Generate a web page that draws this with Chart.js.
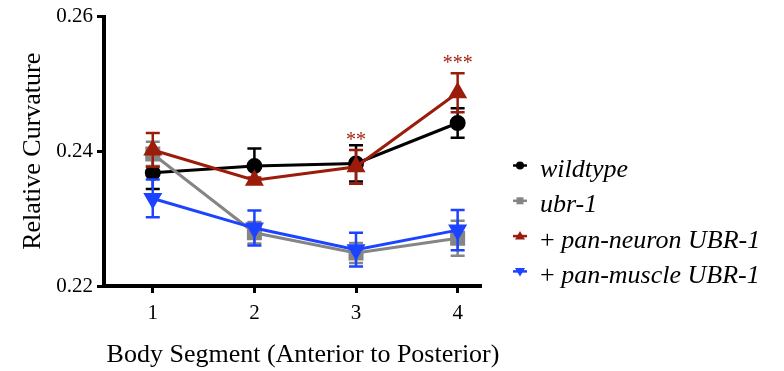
<!DOCTYPE html>
<html>
<head>
<meta charset="utf-8">
<script src="https://cdn.jsdelivr.net/npm/chart.js@4.4.1/dist/chart.umd.min.js"></script>
<style>
  html, body { margin: 0; padding: 0; background: #fff; }
</style>
</head>
<body>
<canvas id="curvatureChart" width="784" height="371"></canvas>
<script>
// values
const segments = [1, 2, 3, 4];
const yTicks = [0.22, 0.24, 0.26];

const wildtype = [0.2368, 0.2378, 0.2382, 0.2442];
const wildtypeErr = [0.0024, 0.0026, 0.0027, 0.0022];
const ubr1 = [0.2396, 0.2279, 0.2249, 0.2271];
const ubr1Err = [0.0018, 0.0016, 0.0015, 0.0026];
const panNeuron = [0.2402, 0.2357, 0.2377, 0.2487];
const panNeuronErr = [0.0025, 0.0004, 0.0025, 0.0029];
const panMuscle = [0.2330, 0.2286, 0.2254, 0.2283];
const panMuscleErr = [0.0028, 0.0026, 0.0025, 0.0030];
const neuronStars = ['', '', '**', '***'];

const legendLabels = [
  { plain: '', italic: 'wildtype' },
  { plain: '', italic: 'ubr-1' },
  { plain: '+ ', italic: 'pan-neuron UBR-1' },
  { plain: '+ ', italic: 'pan-muscle UBR-1' },
];
const xTitle = 'Body Segment (Anterior to Posterior)';

const RED = '#9c1c0b';
const BLUE = '#1c43ff';
const GRAY = '#858585';
const SERIF = '"Liberation Serif", "Times New Roman", serif';

const toPoints = vals => segments.map((s, i) => ({ x: s, y: vals[i] }));

const errorBars = {
  id: 'errorBars',
  beforeDatasetDraw(chart, args) {
    const ds = chart.data.datasets[args.index];
    const { ctx, scales: { x, y } } = chart;
    ctx.save();
    ctx.strokeStyle = ds.borderColor;
    ctx.lineWidth = 2.5;
    ds.errors.forEach((e, i) => {
      const px = x.getPixelForValue(ds.data[i].x);
      const top = y.getPixelForValue(ds.data[i].y + e);
      const bot = y.getPixelForValue(ds.data[i].y - e);
      ctx.beginPath();
      ctx.moveTo(px, top); ctx.lineTo(px, bot);
      ctx.moveTo(px - 7, top); ctx.lineTo(px + 7, top);
      ctx.moveTo(px - 7, bot); ctx.lineTo(px + 7, bot);
      ctx.stroke();
    });
    ctx.restore();
  }
};

const stars = {
  id: 'stars',
  afterDatasetsDraw(chart) {
    const { ctx, scales: { x, y } } = chart;
    ctx.save();
    ctx.fillStyle = RED;
    ctx.font = '20px ' + SERIF;
    ctx.textAlign = 'center';
    ctx.textBaseline = 'alphabetic';
    neuronStars.forEach((s, i) => {
      if (!s) return;
      const px = x.getPixelForValue(segments[i]);
      const py = y.getPixelForValue(panNeuron[i] + panNeuronErr[i]);
      ctx.fillText(s, px, py - 4);
    });
    ctx.restore();
  }
};

// x axis title, drawn a little right of the axis centre as in the figure
const bottomTitle = {
  id: 'bottomTitle',
  afterDraw(chart) {
    const ctx = chart.ctx;
    ctx.save();
    ctx.fillStyle = '#000';
    ctx.font = '26px ' + SERIF;
    ctx.textAlign = 'center';
    ctx.textBaseline = 'alphabetic';
    ctx.fillText(xTitle, 303, 362);
    ctx.restore();
  }
};

function legendMarker(ctx, style, cx, cy, color) {
  ctx.save();
  ctx.fillStyle = color;
  ctx.strokeStyle = color;
  ctx.lineWidth = 2.5;
  ctx.beginPath();
  ctx.moveTo(cx - 7, cy); ctx.lineTo(cx + 7, cy);
  ctx.stroke();
  ctx.beginPath();
  if (style === 'circle') {
    ctx.arc(cx, cy, 4, 0, Math.PI * 2);
  } else if (style === 'rect') {
    ctx.rect(cx - 3.5, cy - 3.5, 7, 7);
  } else if (style === 'up') {
    ctx.moveTo(cx, cy - 5); ctx.lineTo(cx + 5, cy + 3.5); ctx.lineTo(cx - 5, cy + 3.5);
  } else {
    ctx.moveTo(cx, cy + 5); ctx.lineTo(cx + 5, cy - 3.5); ctx.lineTo(cx - 5, cy - 3.5);
  }
  ctx.closePath();
  ctx.fill();
  ctx.restore();
}

const sideLegend = {
  id: 'sideLegend',
  afterDraw(chart) {
    const ctx = chart.ctx;
    const styles = ['circle', 'rect', 'up', 'down'];
    const colors = ['#000', GRAY, RED, BLUE];
    legendLabels.forEach((lab, i) => {
      const cy = 165.5 + i * 35.3;
      legendMarker(ctx, styles[i], 520, cy, colors[i]);
      ctx.save();
      ctx.fillStyle = '#000';
      ctx.textBaseline = 'alphabetic';
      let tx = 540;
      const base = cy + 11.5;
      ctx.font = '26px ' + SERIF;
      if (lab.plain) {
        ctx.fillText(lab.plain, tx, base);
        tx += ctx.measureText(lab.plain).width;
      }
      ctx.font = 'italic 26px ' + SERIF;
      ctx.fillText(lab.italic, tx, base);
      ctx.restore();
    });
  }
};

const ctx = document.getElementById('curvatureChart');

const curvatureChart = new Chart(ctx, {
  type: 'line',
  data: {
    datasets: [
      {
        label: 'wildtype', data: toPoints(wildtype), errors: wildtypeErr,
        borderColor: '#000', backgroundColor: '#000', pointStyle: 'circle',
        pointRadius: 6.5, borderWidth: 3, order: 4,
      },
      {
        label: 'ubr-1', data: toPoints(ubr1), errors: ubr1Err,
        borderColor: GRAY, backgroundColor: GRAY, pointStyle: 'rect',
        pointRadius: 8.5, borderWidth: 3, order: 3,
      },
      {
        label: '+ pan-neuron UBR-1', data: toPoints(panNeuron), errors: panNeuronErr,
        borderColor: RED, backgroundColor: RED, pointStyle: 'triangle',
        pointRadius: 8, borderWidth: 3, order: 2,
      },
      {
        label: '+ pan-muscle UBR-1', data: toPoints(panMuscle), errors: panMuscleErr,
        borderColor: BLUE, backgroundColor: BLUE, pointStyle: 'triangle', pointRotation: 180,
        pointRadius: 8, borderWidth: 3, order: 1,
      },
    ],
  },
  options: {
    responsive: false,
    animation: false,
    layout: { padding: { top: 15, right: 304, left: 0, bottom: 0 } },
    plugins: { legend: { display: false }, tooltip: { enabled: false } },
    scales: {
      x: {
        type: 'linear',
        min: 0.52,
        max: 4.22,
        afterBuildTicks: s => { s.ticks = segments.map(v => ({ value: v })); },
        afterFit: s => { s.height = 85; },
        grid: { drawOnChartArea: false, color: '#000', lineWidth: 3, tickLength: 7 },
        border: { color: '#000', width: 4 },
        ticks: { color: '#000', font: { family: SERIF, size: 21 }, padding: 8, callback: v => String(v) },
        title: { display: false },
      },
      y: {
        min: 0.22,
        max: 0.26,
        afterBuildTicks: s => { s.ticks = yTicks.map(v => ({ value: v })); },
        afterFit: s => { s.width = 104; },
        grid: { drawOnChartArea: false, color: '#000', lineWidth: 3, tickLength: 7 },
        border: { color: '#000', width: 4 },
        ticks: { color: '#000', font: { family: SERIF, size: 21 }, padding: 4, callback: v => v.toFixed(2) },
        title: {
          display: true, text: 'Relative Curvature', color: '#000',
          font: { family: SERIF, size: 26 }, padding: { top: 18, bottom: 0 },
        },
      },
    },
  },
  plugins: [errorBars, stars, bottomTitle, sideLegend],
});
</script>
</body>
</html>
